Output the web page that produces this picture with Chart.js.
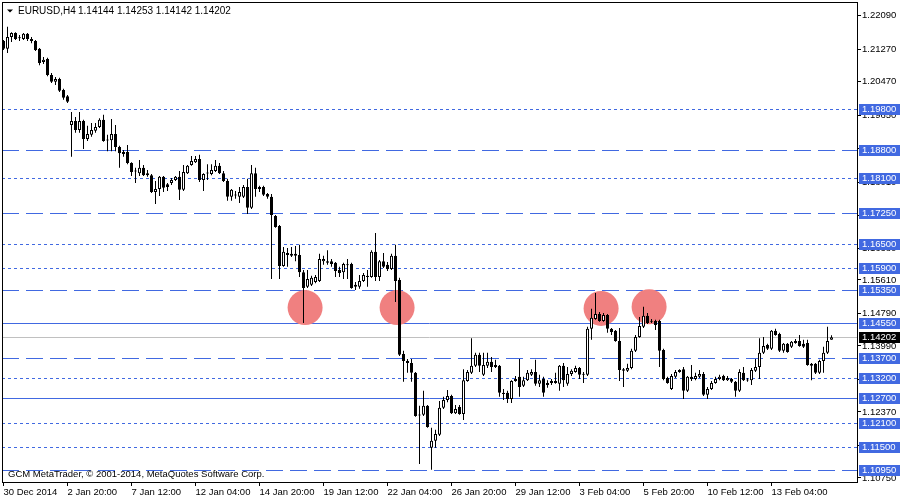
<!DOCTYPE html>
<html>
<head>
<meta charset="utf-8">
<script src="https://cdn.jsdelivr.net/npm/chart.js@4.4.0/dist/chart.umd.min.js"></script>
<style>
  html, body { margin: 0; padding: 0; background: #fff; }
</style>
</head>
<body>
<canvas id="chart" width="900" height="500"></canvas>
<script>
// EURUSD H4 candles, 30 Dec 2014 .. 13 Feb 2015
const opens = [
  1.2147,1.2128,1.2157,1.2167,1.2155,1.2152,1.2165,1.2152,1.2147,1.2128,
  1.2096,1.2103,1.2064,1.2047,1.2054,1.2027,1.2012,1.1941,1.1951,1.1929,
  1.1951,1.1907,1.1917,1.1927,1.1936,1.1954,1.1904,1.1904,1.1919,1.1887,
  1.1875,1.1875,1.1848,1.1828,1.1823,1.1836,1.1823,1.1818,1.1777,1.1784,
  1.1814,1.1796,1.1799,1.1806,1.1814,1.1782,1.1823,1.1843,1.1850,1.1858,
  1.1806,1.1823,1.1821,1.1828,1.1841,1.1823,1.1804,1.1765,1.1770,1.1765,
  1.1765,1.1789,1.1738,1.1823,1.1789,1.1789,1.1772,1.1765,1.1718,1.1693,
  1.1595,1.1627,1.1625,1.1625,1.1622,1.1580,1.1544,1.1549,1.1556,1.1558,
  1.1607,1.1607,1.1607,1.1603,1.1585,1.1580,1.1598,1.1600,1.1549,1.1544,
  1.1558,1.1571,1.1568,1.1630,1.1568,1.1607,1.1598,1.1588,1.1620,1.1561,
  1.1379,1.1362,1.1357,1.1333,1.1230,1.1230,1.1252,1.1149,1.1166,1.1181,
  1.1247,1.1266,1.1276,1.1234,1.1249,1.1232,1.1313,1.1333,1.1350,1.1377,
  1.1328,1.1350,1.1360,1.1352,1.1350,1.1284,1.1284,1.1269,1.1313,1.1323,
  1.1301,1.1315,1.1328,1.1335,1.1306,1.1318,1.1308,1.1308,1.1308,1.1306,
  1.1350,1.1306,1.1330,1.1335,1.1345,1.1330,1.1328,1.1441,1.1465,1.1477,
  1.1460,1.1475,1.1441,1.1436,1.1411,1.1342,1.1338,1.1345,1.1387,1.1421,
  1.1446,1.1473,1.1460,1.1460,1.1460,1.1389,1.1320,1.1293,1.1323,1.1335,
  1.1342,1.1289,1.1323,1.1318,1.1323,1.1330,1.1279,1.1293,1.1308,1.1318,
  1.1325,1.1315,1.1318,1.1311,1.1289,1.1333,1.1315,1.1315,1.1338,1.1347,
  1.1382,1.1401,1.1392,1.1436,1.1428,1.1387,1.1404,1.1397,1.1406,1.1411,
  1.1404,1.1406,1.1355,1.1355,1.1333,1.1362,1.1382,1.14144
];
const highs = [
  1.2150,1.2182,1.2169,1.2169,1.2162,1.2167,1.2167,1.2157,1.2150,1.2130,
  1.2108,1.2106,1.2069,1.2059,1.2057,1.2030,1.2015,1.1973,1.1961,1.1973,
  1.1954,1.1939,1.1946,1.1946,1.1958,1.1966,1.1917,1.1956,1.1941,1.1890,
  1.1880,1.1892,1.1850,1.1836,1.1855,1.1843,1.1831,1.1821,1.1804,1.1816,
  1.1816,1.1799,1.1811,1.1816,1.1828,1.1843,1.1843,1.1865,1.1865,1.1868,
  1.1823,1.1845,1.1845,1.1855,1.1848,1.1828,1.1809,1.1784,1.1779,1.1789,
  1.1794,1.1809,1.1843,1.1836,1.1792,1.1792,1.1774,1.1772,1.1720,1.1696,
  1.1642,1.1639,1.1642,1.1644,1.1647,1.1585,1.1585,1.1571,1.1573,1.1625,
  1.1620,1.1634,1.1612,1.1605,1.1593,1.1603,1.1612,1.1603,1.1556,1.1573,
  1.1578,1.1585,1.1634,1.1676,1.1610,1.1627,1.1605,1.1625,1.1647,1.1566,
  1.1387,1.1367,1.1367,1.1335,1.1252,1.1289,1.1254,1.1198,1.1193,1.1264,
  1.1274,1.1291,1.1279,1.1254,1.1254,1.1342,1.1340,1.1418,1.1382,1.1382,
  1.1382,1.1382,1.1372,1.1365,1.1352,1.1293,1.1289,1.1315,1.1325,1.1367,
  1.1323,1.1340,1.1342,1.1365,1.1328,1.1323,1.1315,1.1318,1.1333,1.1352,
  1.1357,1.1347,1.1342,1.1350,1.1347,1.1335,1.1446,1.1490,1.1529,1.1482,
  1.1480,1.1477,1.1443,1.1438,1.1443,1.1345,1.1355,1.1392,1.1426,1.1470,
  1.1495,1.1480,1.1465,1.1463,1.1463,1.1392,1.1323,1.1330,1.1340,1.1342,
  1.1347,1.1325,1.1352,1.1333,1.1340,1.1335,1.1298,1.1313,1.1323,1.1328,
  1.1328,1.1325,1.1320,1.1313,1.1342,1.1347,1.1320,1.1345,1.1367,1.1418,
  1.1421,1.1404,1.1438,1.1441,1.1431,1.1406,1.1406,1.1411,1.1416,1.1426,
  1.1414,1.1414,1.1357,1.1357,1.1365,1.1397,1.1446,1.14253
];
const lows = [
  1.2125,1.2118,1.2145,1.2150,1.2147,1.2150,1.2147,1.2142,1.2123,1.2088,
  1.2091,1.2061,1.2044,1.2039,1.2022,1.2003,1.1995,1.1863,1.1922,1.1922,
  1.1882,1.1902,1.1912,1.1922,1.1934,1.1900,1.1877,1.1877,1.1877,1.1836,
  1.1863,1.1845,1.1816,1.1799,1.1816,1.1816,1.1814,1.1774,1.1747,1.1767,
  1.1777,1.1779,1.1794,1.1804,1.1757,1.1779,1.1821,1.1841,1.1848,1.1801,
  1.1779,1.1806,1.1818,1.1826,1.1821,1.1801,1.1755,1.1755,1.1760,1.1750,
  1.1762,1.1723,1.1735,1.1765,1.1777,1.1767,1.1760,1.1563,1.1689,1.1563,
  1.1593,1.1593,1.1617,1.1607,1.1568,1.1455,1.1541,1.1546,1.1553,1.1556,
  1.1598,1.1598,1.1593,1.1568,1.1568,1.1563,1.1563,1.1539,1.1536,1.1539,
  1.1556,1.1544,1.1566,1.1558,1.1558,1.1590,1.1583,1.1585,1.1507,1.1374,
  1.1311,1.1333,1.1311,1.1225,1.1109,1.1227,1.1198,1.1095,1.1149,1.1178,
  1.1244,1.1261,1.1232,1.1232,1.1230,1.1217,1.1311,1.1330,1.1347,1.1335,
  1.1325,1.1345,1.1335,1.1345,1.1274,1.1266,1.1259,1.1259,1.1311,1.1274,
  1.1298,1.1313,1.1325,1.1301,1.1298,1.1274,1.1296,1.1303,1.1306,1.1289,
  1.1298,1.1301,1.1325,1.1333,1.1318,1.1308,1.1325,1.1414,1.1463,1.1458,
  1.1458,1.1431,1.1426,1.1409,1.1313,1.1298,1.1335,1.1342,1.1384,1.1419,
  1.1443,1.1453,1.1455,1.1438,1.1347,1.1315,1.1306,1.1291,1.1320,1.1333,
  1.1269,1.1286,1.1313,1.1315,1.1320,1.1276,1.1269,1.1291,1.1306,1.1315,
  1.1313,1.1313,1.1308,1.1274,1.1286,1.1313,1.1311,1.1303,1.1335,1.1318,
  1.1379,1.1389,1.1389,1.1424,1.1384,1.1382,1.1382,1.1394,1.1404,1.1397,
  1.1394,1.1350,1.1315,1.1330,1.1330,1.1333,1.1379,1.14142
];
const closes = [
  1.2128,1.2157,1.2167,1.2152,1.2154,1.2165,1.2152,1.2147,1.2125,1.2093,
  1.2101,1.2064,1.2047,1.2054,1.2025,1.2008,1.1998,1.1951,1.1929,1.1951,
  1.1907,1.1919,1.1929,1.1936,1.1954,1.1902,1.1903,1.1919,1.1887,1.1872,
  1.1870,1.1848,1.1826,1.1827,1.1836,1.1818,1.1818,1.1777,1.1784,1.1814,
  1.1787,1.1789,1.1806,1.1814,1.1782,1.1826,1.1841,1.1853,1.1858,1.1806,
  1.1821,1.1822,1.1831,1.1841,1.1823,1.1804,1.1765,1.1782,1.1768,1.1777,
  1.1789,1.1738,1.1823,1.1784,1.1784,1.1770,1.1765,1.1720,1.1691,1.1595,
  1.1630,1.1622,1.1620,1.1620,1.1580,1.1541,1.1563,1.1566,1.1568,1.1612,
  1.1612,1.1603,1.1600,1.1583,1.1578,1.1600,1.1597,1.1541,1.1544,1.1558,
  1.1573,1.1568,1.1630,1.1568,1.1607,1.1593,1.1588,1.1620,1.1558,1.1377,
  1.1362,1.1357,1.1333,1.1227,1.1228,1.1252,1.1200,1.1166,1.1183,1.1247,
  1.1266,1.1276,1.1234,1.1244,1.1232,1.1315,1.1335,1.1350,1.1377,1.1350,
  1.1352,1.1360,1.1347,1.1347,1.1284,1.1281,1.1269,1.1313,1.1318,1.1298,
  1.1315,1.1333,1.1335,1.1306,1.1315,1.1284,1.1303,1.1313,1.1313,1.1350,
  1.1315,1.1330,1.1338,1.1345,1.1328,1.1328,1.1441,1.1468,1.1477,1.1460,
  1.1475,1.1441,1.1433,1.1411,1.1340,1.1338,1.1345,1.1387,1.1421,1.1448,
  1.1473,1.1455,1.1458,1.1450,1.1387,1.1318,1.1308,1.1325,1.1335,1.1340,
  1.1289,1.1323,1.1318,1.1325,1.1330,1.1279,1.1293,1.1308,1.1318,1.1323,
  1.1315,1.1320,1.1311,1.1289,1.1335,1.1315,1.1314,1.1340,1.1347,1.1382,
  1.1399,1.1392,1.1436,1.1426,1.1387,1.1404,1.1384,1.1409,1.1411,1.1399,
  1.1397,1.1352,1.1350,1.1333,1.1362,1.1382,1.1411,1.14202
];

// time axis labels, one every 16 bars
const xTickIdx = [0, 16, 32, 48, 64, 80, 96, 112, 128, 144, 160, 176, 192];
const xLabels = ['30 Dec 2014', '2 Jan 20:00', '7 Jan 12:00', '12 Jan 04:00', '14 Jan 20:00',
  '19 Jan 12:00', '22 Jan 04:00', '26 Jan 20:00', '29 Jan 12:00', '3 Feb 04:00',
  '5 Feb 20:00', '10 Feb 12:00', '13 Feb 04:00'];

// price scale ticks
const yTicks = [1.22090, 1.21270, 1.20470, 1.19650, 1.18830, 1.18010, 1.17200, 1.16380,
  1.15610, 1.14790, 1.13990, 1.13170, 1.12370, 1.11550, 1.10750];

// horizontal lines drawn on the chart
const lineLevels = [1.1980, 1.1880, 1.1810, 1.1725, 1.1650, 1.1590, 1.1535, 1.1455,
  1.1370, 1.1320, 1.1270, 1.1210, 1.1150, 1.1095];
const lineStyles = ['dot', 'dash', 'dot', 'dash', 'dot', 'dot', 'dash', 'solid',
  'dash', 'dot', 'solid', 'dot', 'dot', 'dash'];

// marked spots (bar index, price)
const markX = [75.4, 98.4, 149.4, 161.4];
const markY = [1.1493, 1.1493, 1.1491, 1.1495];

const bidPrice = closes[closes.length - 1];
const FONT = 'Liberation Sans';
const BLUE = '#4169E1';

const idx = opens.map((_, i) => i);
const wickData = idx.map(i => ({ x: i, y: [lows[i], highs[i]] }));
const bodyData = idx.map(i => ({ x: i, y: [opens[i], closes[i]] }));
const bodyColors = idx.map(i => closes[i] >= opens[i] ? '#ffffff' : '#000000');

// scales must not reserve room for overflowing labels
function noPad(s) {
  s.paddingLeft = 0; s.paddingRight = 0; s.paddingTop = 0; s.paddingBottom = 0;
}

const overlay = {
  id: 'overlay',
  beforeDatasetsDraw(chart) {
    const { ctx, chartArea: a, scales: { y } } = chart;
    ctx.save();
    ctx.lineWidth = 1;
    // bid line
    let py = Math.round(y.getPixelForValue(bidPrice)) + 0.5;
    ctx.strokeStyle = '#c0c0c0';
    ctx.setLineDash([]);
    ctx.beginPath(); ctx.moveTo(a.left, py); ctx.lineTo(a.right, py); ctx.stroke();
    ctx.strokeStyle = BLUE;
    lineLevels.forEach((lv, k) => {
      const st = lineStyles[k];
      ctx.setLineDash(st === 'dot' ? [3, 3] : st === 'dash' ? [17, 7] : []);
      py = Math.round(y.getPixelForValue(lv)) + 0.5;
      ctx.beginPath(); ctx.moveTo(a.left, py); ctx.lineTo(a.right, py); ctx.stroke();
    });
    ctx.restore();
  },
  afterDraw(chart) {
    const { ctx, chartArea: a, scales: { y } } = chart;
    ctx.save();
    ctx.strokeStyle = '#000';
    ctx.lineWidth = 1;
    ctx.strokeRect(a.left + 0.5, a.top + 0.5, a.right - a.left, a.bottom - a.top);

    // price labels of the lines
    ctx.font = '9.5px "' + FONT + '"';
    ctx.textBaseline = 'middle';
    ctx.textAlign = 'left';
    lineLevels.forEach(lv => {
      const py = Math.round(y.getPixelForValue(lv));
      ctx.fillStyle = BLUE;
      ctx.fillRect(a.right + 2, py - 5, 900 - a.right - 2, 11);
      ctx.fillStyle = '#fff';
      ctx.fillText(lv.toFixed(5), a.right + 5, py + 0.5);
    });
    const bp = Math.round(y.getPixelForValue(bidPrice));
    ctx.fillStyle = '#000';
    ctx.fillRect(a.right + 2, bp - 5, 900 - a.right - 2, 11);
    ctx.fillStyle = '#fff';
    ctx.fillText(bidPrice.toFixed(5), a.right + 5, bp + 0.5);

    // header
    ctx.fillStyle = '#000';
    ctx.beginPath();
    ctx.moveTo(7, 9.5); ctx.lineTo(13, 9.5); ctx.lineTo(10, 12.5); ctx.closePath();
    ctx.fill();
    ctx.font = '10px "' + FONT + '"';
    ctx.textBaseline = 'alphabetic';
    ctx.fillText('EURUSD,H4', 18, 14);
    const last = opens.length - 1;
    ctx.fillText([opens[last], highs[last], lows[last], closes[last]].map(v => v.toFixed(5)).join(' '), 78, 14);

    // footer
    ctx.font = '9.5px "' + FONT + '"';
    ctx.fillText('GCM MetaTrader, © 2001-2014, MetaQuotes Software Corp.', 8, 477);
    ctx.restore();
  }
};

new Chart(document.getElementById('chart'), {
  type: 'bar',
  data: {
    datasets: [
      {
        type: 'scatter',
        data: markX.map((x, k) => ({ x, y: markY[k] })),
        pointRadius: 17.5,
        pointBackgroundColor: '#f08080',
        pointBorderWidth: 0,
        order: 3
      },
      {
        data: wickData,
        backgroundColor: '#000',
        borderWidth: 0,
        barThickness: 1,
        grouped: false,
        inflateAmount: 0,
        order: 2
      },
      {
        data: bodyData,
        backgroundColor: bodyColors,
        borderColor: '#000',
        borderWidth: 1,
        borderSkipped: false,
        barThickness: 3,
        minBarLength: 1,
        grouped: false,
        inflateAmount: 0,
        order: 1
      }
    ]
  },
  options: {
    responsive: false,
    animation: false,
    events: [],
    layout: { autoPadding: false, padding: { left: 2, top: 2, right: 0, bottom: 0 } },
    plugins: { legend: { display: false }, tooltip: { enabled: false } },
    scales: {
      x: {
        type: 'linear',
        min: -0.375,
        max: 213.375,
        offset: false,
        afterBuildTicks: s => { s.ticks = xTickIdx.map(v => ({ value: v })); },
        afterFit: s => { s.height = 18; noPad(s); },
        grid: { drawOnChartArea: false, drawTicks: true, tickLength: 4, color: '#000', offset: false },
        border: { display: true, color: '#000' },
        ticks: {
          align: 'start', autoSkip: false, maxRotation: 0, minRotation: 0, padding: 1,
          color: '#000', font: { family: FONT, size: 9.5 },
          callback: (v, i) => xLabels[i]
        }
      },
      y: {
        type: 'linear',
        position: 'right',
        min: 1.1065,
        max: 1.2243,
        afterBuildTicks: s => { s.ticks = yTicks.map(v => ({ value: v })); },
        afterFit: s => { s.width = 43; noPad(s); },
        grid: { drawOnChartArea: false, drawTicks: true, tickLength: 4, color: '#000' },
        border: { display: true, color: '#000' },
        ticks: {
          autoSkip: false, padding: 1, color: '#000',
          font: { family: FONT, size: 9.5 },
          callback: v => v.toFixed(5)
        }
      }
    }
  },
  plugins: [overlay]
});
</script>
</body>
</html>
